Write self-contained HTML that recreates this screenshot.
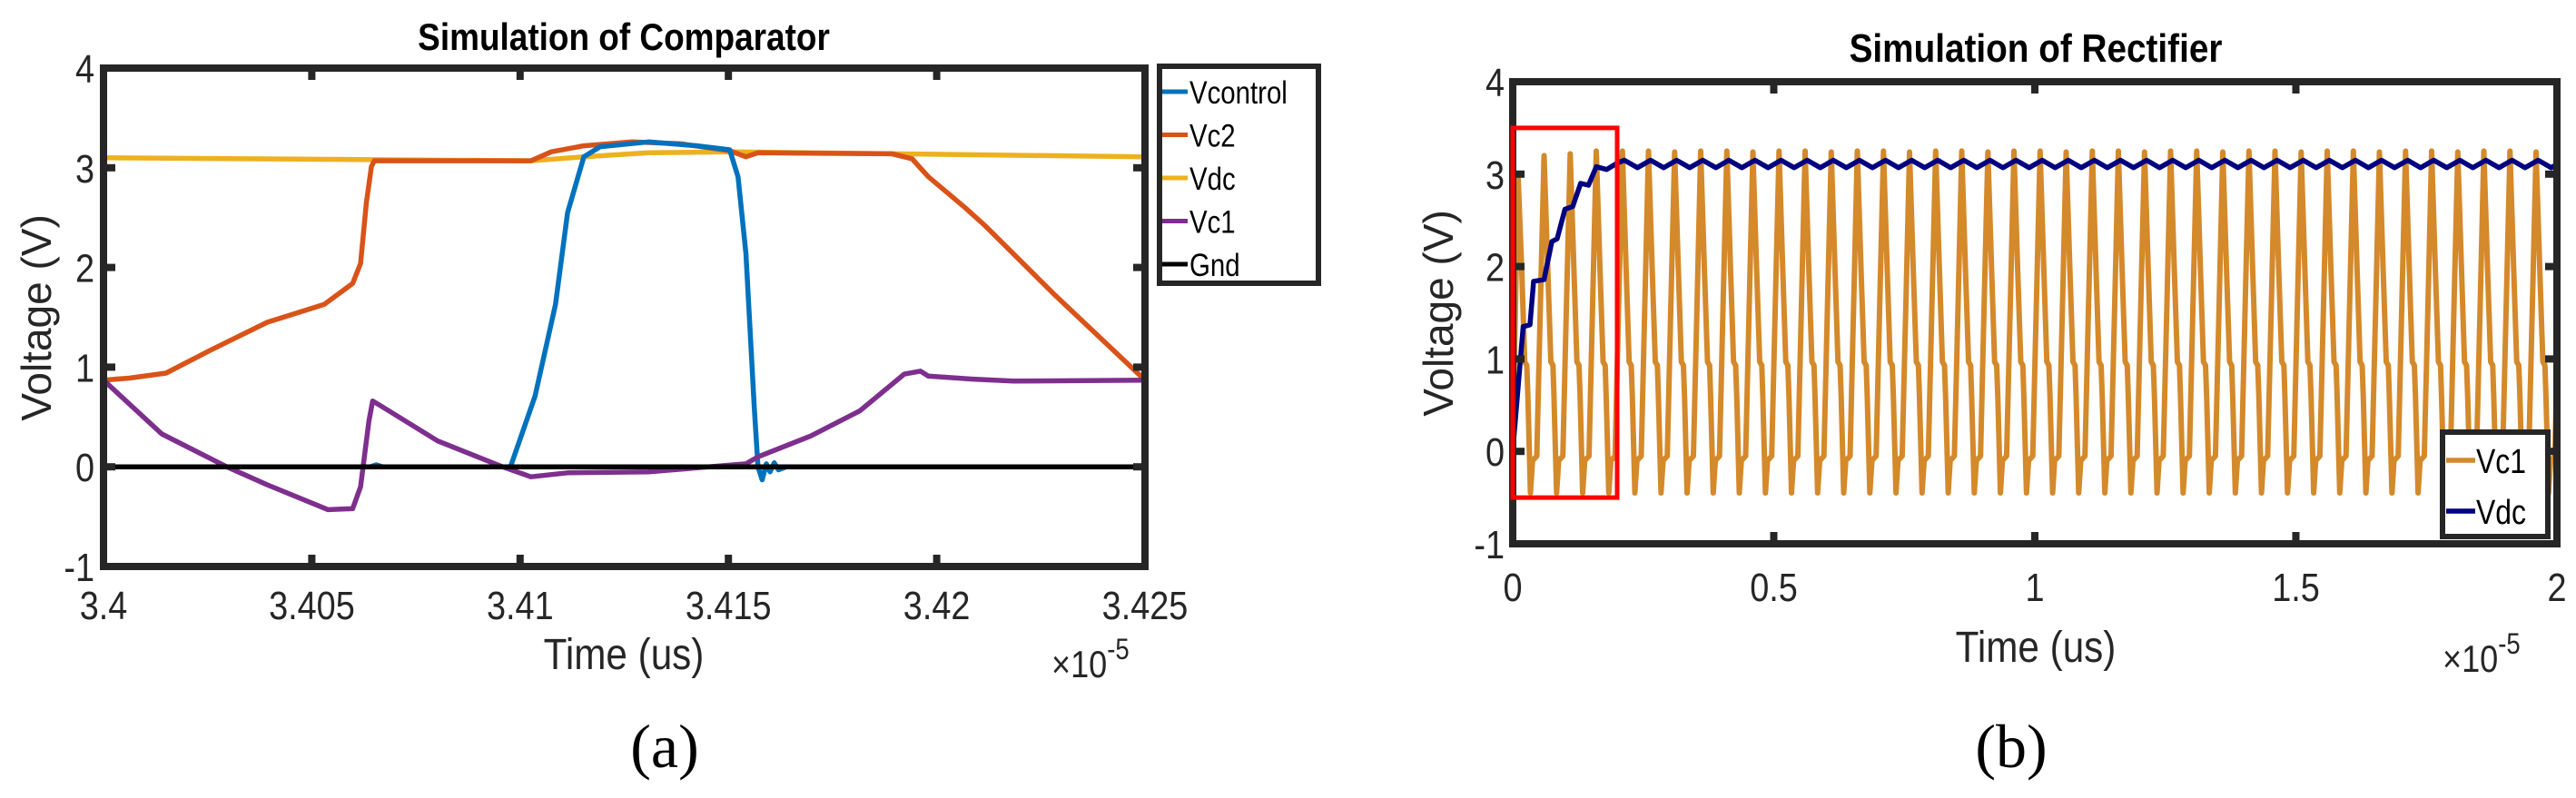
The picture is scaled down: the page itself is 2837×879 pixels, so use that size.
<!DOCTYPE html>
<html><head><meta charset="utf-8"><style>
html,body{margin:0;padding:0;background:#fff;}
svg{display:block;font-family:"Liberation Sans",sans-serif;}
</style></head><body>
<svg id="fig" width="2837" height="879" viewBox="0 0 2837 879" xmlns="http://www.w3.org/2000/svg">
<g id="left"></g>
<g id="right"></g>
</svg>
<script>
// ---------- Chart (a) data: time in units of 1e-5 ----------
const aXTicks = [3.4, 3.405, 3.41, 3.415, 3.42, 3.425];
const aXTickLabels = ["3.4","3.405","3.41","3.415","3.42","3.425"];
const yTicks = [-1, 0, 1, 2, 3, 4];
const yTickLabels = ["-1","0","1","2","3","4"];
const aSeriesNames = ["Vcontrol","Vc2","Vdc","Vc1","Gnd"];
const vcontrolT = [3.4,3.4064,3.40655,3.4067,3.40977,3.41036,3.41085,3.41114,3.41153,3.41192,3.41308,3.41425,3.41503,3.41523,3.41542,3.41562,3.41571,3.41581,3.41591,3.416,3.4161,3.4162,3.41639,3.425];
const vcontrolV = [0,0,0.02,0,0,0.71,1.63,2.55,3.11,3.21,3.26,3.22,3.18,2.91,2.14,0.61,0,-0.13,0.03,-0.05,0.04,-0.03,0,0];
const vc2T = [3.4,3.40062,3.4015,3.40257,3.40393,3.4053,3.40598,3.40617,3.40631,3.40643,3.4065,3.41026,3.41075,3.41153,3.41269,3.41386,3.41503,3.41542,3.41571,3.41893,3.41941,3.4198,3.42068,3.42116,3.42282,3.425];
const vc2V = [0.87,0.89,0.94,1.17,1.45,1.63,1.84,2.04,2.65,3.01,3.07,3.07,3.16,3.22,3.26,3.24,3.17,3.11,3.15,3.14,3.09,2.91,2.6,2.42,1.73,0.87];
const vdcT = [3.4,3.41026,3.41153,3.41308,3.41503,3.41893,3.425];
const vdcV = [3.1,3.07,3.11,3.15,3.16,3.14,3.11];
const vc1T = [3.4,3.4014,3.40296,3.40393,3.40539,3.40598,3.40617,3.40637,3.40646,3.40666,3.40802,3.40958,3.41026,3.41114,3.41308,3.41542,3.41571,3.41698,3.41815,3.41922,3.41961,3.4198,3.42087,3.42185,3.425];
const vc1V = [0.87,0.33,0,-0.18,-0.43,-0.42,-0.2,0.46,0.66,0.61,0.26,0,-0.1,-0.06,-0.05,0.03,0.1,0.31,0.56,0.93,0.96,0.91,0.88,0.86,0.87];
const gndT = [3.4,3.425];
const gndV = [0,0];

// ---------- Chart (b) data ----------
const bXTicks = [0,0.5,1,1.5,2];
const bXTickLabels = ["0","0.5","1","1.5","2"];
const bPeakTimes = [0.01,0.06,0.11,0.16,0.21,0.26,0.31,0.36,0.41,0.46,0.51,0.56,0.61,0.66,0.71,0.76,0.81,0.86,0.91,0.96,1.01,1.06,1.11,1.16,1.21,1.26,1.31,1.36,1.41,1.46,1.51,1.56,1.61,1.66,1.71,1.76,1.81,1.86,1.91,1.96,2.01];
const bPeakValues = [3.0,3.2,3.22,3.25,3.25,3.25,3.24,3.25,3.25,3.24,3.25,3.25,3.24,3.25,3.25,3.24,3.25,3.25,3.24,3.25,3.25,3.24,3.25,3.25,3.24,3.25,3.25,3.24,3.25,3.25,3.24,3.25,3.25,3.24,3.25,3.25,3.24,3.25,3.25,3.24,3.25];
const cycleOffsets = [0,0.007,0.013,0.017,0.019,0.024,0.028,0.036,0.043];
const cycleValues = [null,2.0,0.97,0.93,0.6,-0.45,-0.1,-0.05,1.6];
const bVdcRampT = [0,0.02,0.033,0.04,0.06,0.075,0.085,0.1,0.115,0.13,0.145,0.16,0.18,0.2];
const bVdcRampV = [0,1.35,1.37,1.84,1.86,2.27,2.3,2.62,2.65,2.9,2.88,3.08,3.05,3.12];
const bVdcHigh = 3.15, bVdcLow = 3.07;
const bBoxX = [0,0.2], bBoxY = [-0.5,3.5];

const NS="http://www.w3.org/2000/svg";
function mk(parent,tag,attrs,text){const e=document.createElementNS(NS,tag);for(const k in attrs)e.setAttribute(k,attrs[k]);if(text!==undefined)e.textContent=text;parent.appendChild(e);return e;}
function txt(parent,x,y,str,size,anchor,sx){const e=mk(parent,'text',{x:0,y:0,'text-anchor':anchor,'font-size':size,fill:'#262626',transform:'translate('+x+','+y+') scale('+sx+',1)'},str);return e;}
function pathD(xs,ys,sx,sy){let d="";for(let i=0;i<xs.length;i++){d+=(i?"L":"M")+sx(xs[i]).toFixed(1)+","+sy(ys[i]).toFixed(1);}return d;}

// ---------- Draw (a) ----------
(function(){
const g=document.getElementById('left');
const X0=114,X1=1261,Y0=75,Y1=624;
const sx=v=>X0+(v-3.4)/0.025*(X1-X0);
const sy=v=>Y1-(v+1)/5*(Y1-Y0);
const cp=mk(g,'clipPath',{id:'clipA'});mk(cp,'rect',{x:X0,y:Y0,width:X1-X0,height:Y1-Y0});
const t=mk(g,'text',{x:0,y:0,'text-anchor':'middle','font-size':42,'font-weight':'bold',transform:'translate(687,55) scale(0.88,1)'},'Simulation of Comparator');


const lines=mk(g,'g',{'clip-path':'url(#clipA)'});


const series=[[vdcT,vdcV,'#EDB120','vdc-line'],[vc2T,vc2V,'#D95319','vc2-line'],[vcontrolT,vcontrolV,'#0072BD','vcontrol-line'],[vc1T,vc1V,'#7E2F8E','vc1-line'],[gndT,gndV,'#000000','gnd-line']];
series.forEach(s=>{const p=mk(lines,'path',{d:pathD(s[0],s[1],sx,sy),fill:'none',stroke:s[2],'stroke-width':5.5,'stroke-linejoin':'round'});

});
const box=mk(g,'rect',{x:X0,y:Y0,width:X1-X0,height:Y1-Y0,fill:'none',stroke:'#262626','stroke-width':8});


aXTicks.forEach((v,i)=>{const x=sx(v);
mk(g,'line',{x1:x,y1:Y0,x2:x,y2:Y0+13,stroke:'#262626','stroke-width':8});
mk(g,'line',{x1:x,y1:Y1,x2:x,y2:Y1-13,stroke:'#262626','stroke-width':8});
const l=txt(g,x,682,aXTickLabels[i],44,'middle',0.86);

});
yTicks.forEach((v,i)=>{const y=sy(v);
mk(g,'line',{x1:X0,y1:y,x2:X0+13,y2:y,stroke:'#262626','stroke-width':8});
mk(g,'line',{x1:X1,y1:y,x2:X1-13,y2:y,stroke:'#262626','stroke-width':8});
const l=txt(g,104,y+16,yTickLabels[i],44,'end',0.86);

});
const xl=txt(g,687,737,'Time (us)',48,'middle',0.88);


const yl=mk(g,'text',{x:0,y:0,'text-anchor':'middle','font-size':46,fill:'#262626',transform:'translate(56,350) rotate(-90)'},'Voltage (V)');


const ex=mk(g,'text',{x:0,y:0,'font-size':42,fill:'#262626',transform:'translate(1158,746) scale(0.86,1)'});


ex.innerHTML='×10<tspan dy="-20" font-size="32">-5</tspan>';
const cap=mk(g,'text',{x:732,y:845,'text-anchor':'middle','font-size':68,'font-family':'Liberation Serif, serif'},'(a)');


const lg=mk(g,'g',{});


mk(lg,'rect',{x:1277,y:73,width:175,height:239,fill:'#fff',stroke:'#262626','stroke-width':6});
const lc=['#0072BD','#D95319','#EDB120','#7E2F8E','#000000'];
aSeriesNames.forEach((n,i)=>{const y=101+i*47.5;
mk(lg,'line',{x1:1280,y1:y,x2:1308,y2:y,stroke:lc[i],'stroke-width':5});
const e=mk(lg,'text',{x:0,y:0,'font-size':35,fill:'#000',transform:'translate(1310,'+(y+13)+') scale(0.84,1)'},n);

});
})();

// ---------- Draw (b) ----------
(function(){
const g=document.getElementById('right');
const X0=1666,X1=2816,Y0=90,Y1=599;
const sx=v=>X0+v/2*(X1-X0);
const sy=v=>Y1-(v+1)/5*(Y1-Y0);
const cp=mk(g,'clipPath',{id:'clipB'});mk(cp,'rect',{x:X0,y:Y0,width:X1-X0,height:Y1-Y0});
const t=mk(g,'text',{x:0,y:0,'text-anchor':'middle','font-size':44,'font-weight':'bold',transform:'translate(2242,68) scale(0.88,1)'},'Simulation of Rectifier');


const lines=mk(g,'g',{'clip-path':'url(#clipB)'});


const vt=[0],vv=[0];
bPeakTimes.forEach((pt,i)=>{cycleOffsets.forEach((o,j)=>{vt.push(pt+o);vv.push(j===0?bPeakValues[i]:cycleValues[j]);});});
const p1=mk(lines,'path',{d:pathD(vt,vv,sx,sy),fill:'none',stroke:'#D4892A','stroke-width':6,'stroke-linejoin':'round'});


const dt=bVdcRampT.slice(),dv=bVdcRampV.slice();
bPeakTimes.forEach(pt=>{if(pt>0.2){dt.push(pt+0.004);dv.push(bVdcHigh);dt.push(pt+0.029);dv.push(bVdcLow);}});
const p2=mk(lines,'path',{d:pathD(dt,dv,sx,sy),fill:'none',stroke:'#000080','stroke-width':5.5,'stroke-linejoin':'round'});


const box=mk(g,'rect',{x:X0,y:Y0,width:X1-X0,height:Y1-Y0,fill:'none',stroke:'#262626','stroke-width':8});


bXTicks.forEach((v,i)=>{const x=sx(v);
mk(g,'line',{x1:x,y1:Y0,x2:x,y2:Y0+13,stroke:'#262626','stroke-width':8});
mk(g,'line',{x1:x,y1:Y1,x2:x,y2:Y1-13,stroke:'#262626','stroke-width':8});
const l=txt(g,x,662,bXTickLabels[i],44,'middle',0.86);

});
yTicks.forEach((v,i)=>{const y=sy(v);
mk(g,'line',{x1:X0,y1:y,x2:X0+13,y2:y,stroke:'#262626','stroke-width':8});
mk(g,'line',{x1:X1,y1:y,x2:X1-13,y2:y,stroke:'#262626','stroke-width':8});
const l=txt(g,1657,y+16,yTickLabels[i],44,'end',0.86);

});
const rb=mk(g,'rect',{x:sx(bBoxX[0]),y:sy(bBoxY[1]),width:sx(bBoxX[1])-sx(bBoxX[0]),height:sy(bBoxY[0])-sy(bBoxY[1]),fill:'none',stroke:'#FF0000','stroke-width':5});


const xl=txt(g,2242,729,'Time (us)',48,'middle',0.88);


const yl=mk(g,'text',{x:0,y:0,'text-anchor':'middle','font-size':46,fill:'#262626',transform:'translate(1600,345) rotate(-90)'},'Voltage (V)');


const ex=mk(g,'text',{x:0,y:0,'font-size':42,fill:'#262626',transform:'translate(2690,740) scale(0.86,1)'});


ex.innerHTML='×10<tspan dy="-20" font-size="32">-5</tspan>';
const cap=mk(g,'text',{x:2215,y:845,'text-anchor':'middle','font-size':68,'font-family':'Liberation Serif, serif'},'(b)');


const lg=mk(g,'g',{});


mk(lg,'rect',{x:2690,y:476,width:116,height:115,fill:'#fff',stroke:'#262626','stroke-width':6});
[['Vc1','#D4892A',507],['Vdc','#000080',563]].forEach(e=>{
mk(lg,'line',{x1:2694,y1:e[2],x2:2726,y2:e[2],stroke:e[1],'stroke-width':5.5});
const tx=mk(lg,'text',{x:0,y:0,'font-size':38,fill:'#000',transform:'translate(2727,'+(e[2]+14)+') scale(0.84,1)'},e[0]);

});
})();
</script>
</body></html>
